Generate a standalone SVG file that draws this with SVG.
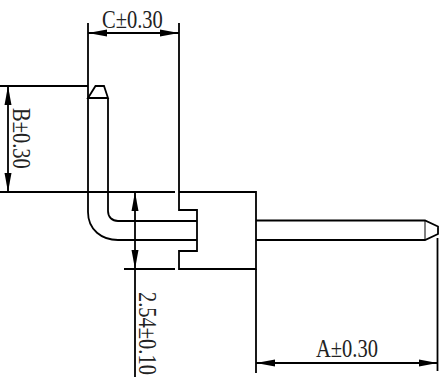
<svg xmlns="http://www.w3.org/2000/svg" width="444" height="377" viewBox="0 0 444 377">
<style>
.l{fill:none;stroke:#000;stroke-width:1.8}
.t{font-family:"Liberation Serif",serif;font-size:20.500px;fill:#222;stroke:none}
</style>
<defs>
<marker id="a" markerUnits="userSpaceOnUse" markerWidth="20" markerHeight="8" refX="19" refY="4" orient="auto-start-reverse"><path d="M0 0.500 L19 4 L0 7.500 Z" fill="#000"/></marker>
</defs>
<rect width="444" height="377" fill="#fff"/>
<g id="pin" class="l">
<path d="M88 98 L95.500 86 L104 86 L108 98 Z"/>
<path d="M88 98 V212 C88 230 102 240 118 240 H197"/>
<path d="M108 98 V211 C108 217 112 221 118 221 H197"/>
<path d="M256 220.500 H425 L438 226.500 V234 L425 240 H256"/>
<path d="M425 220.500 V240" stroke-width="1"/>
</g>
<g id="housing" class="l">
<path d="M179 23 V210 H197 V251 H179 V269 H256 V192 H179"/>
</g>
<g id="connectors" class="l">
<path d="M88 23 V98"/>
<path d="M0 86 H88"/>
<path d="M0 192 H175"/>
<path d="M124 269 H175"/>
<path d="M135 269 V377"/>
<path d="M256 269 V373"/>
<path d="M437.500 238 V371"/>
<path d="M88 33 H179" marker-start="url(#a)" marker-end="url(#a)"/>
<path d="M8 86 V192" marker-start="url(#a)" marker-end="url(#a)"/>
<path d="M135 192 V269" marker-start="url(#a)" marker-end="url(#a)"/>
<path d="M256 363 H437.500" marker-start="url(#a)" marker-end="url(#a)"/>
</g>
<g id="labels">
<text class="t" transform="translate(102 28) scale(1 1.220)">C±0.30</text>
<text class="t" transform="translate(316 357) scale(1 1.220)">A±0.30</text>
<text class="t" transform="translate(13 108) rotate(90) scale(1 1.220)">B±0.30</text>
<text class="t" transform="translate(139 292) rotate(90) scale(1 1.220)">2.54±0.10</text>
</g>
</svg>
